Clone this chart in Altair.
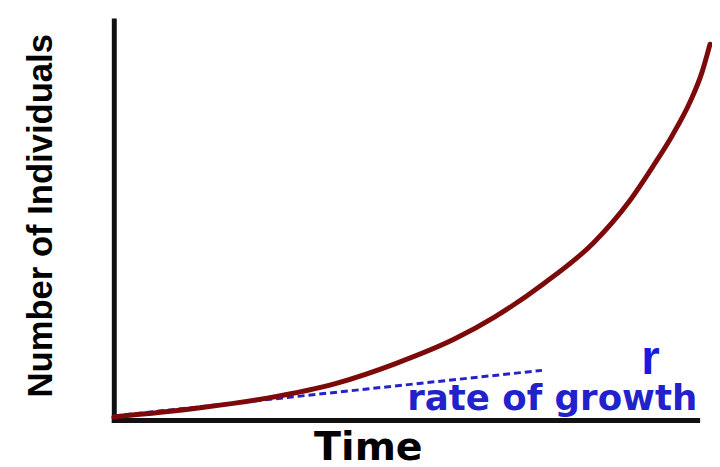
import altair as alt
import pandas as pd

# Exponential growth curve
curve_x = [0, 14.41, 26.27, 38.14, 48.31, 58.47, 65.25, 73.73, 82.20, 88.47, 92.37, 95.76, 98.81, 100.85, 102.20]
curve_y = [0.74, 2.97, 5.45, 9.16, 14.11, 20.30, 25.74, 34.16, 44.31, 54.95, 63.37, 71.29, 79.70, 87.13, 94.06]

# Rate-of-growth dashed tangent line
rate_x = [0, 73.4]
rate_y = [1.0, 12.4]

# Annotation texts
r_label = ["r"]
r_x = [92.0]
r_y = [11.4]
growth_label = ["rate of growth"]
growth_x = [50.3]
growth_y = [2.5]

curve_df = pd.DataFrame({"x": curve_x, "y": curve_y})
rate_df = pd.DataFrame({"x": rate_x, "y": rate_y})
r_df = pd.DataFrame({"x": r_x, "y": r_y, "t": r_label})
g_df = pd.DataFrame({"x": growth_x, "y": growth_y, "t": growth_label})

xs = alt.Scale(domain=[0, 100], nice=False, zero=False)
ys = alt.Scale(domain=[0, 100], nice=False, zero=False)

xaxis = alt.Axis(
    title="Time", ticks=False, labels=False, grid=False,
    domainColor="#111111", domainWidth=5, domainCap="square",
    titleFont="DejaVu Sans", titleFontSize=40, titleFontWeight="bold",
    titleColor="#000000", titleX=257, titleY=40, titleBaseline="alphabetic",
    titleAlign="center", titleAnchor="start",
)
yaxis = alt.Axis(
    title="Number of Individuals", ticks=False, labels=False, grid=False,
    domainColor="#111111", domainWidth=5, domainCap="square",
    titleFont="Liberation Sans", titleFontSize=35,
    titleFontWeight="bold", titleColor="#000000", titleAngle=270,
    titleX=-63, titleY=197, titleBaseline="alphabetic", titleAlign="center",
    titleAnchor="start",
)

X = alt.X("x:Q", scale=xs, axis=xaxis)
Y = alt.Y("y:Q", scale=ys, axis=yaxis)

curve = alt.Chart(curve_df).mark_line(
    color="#7d0a0a", strokeWidth=5, interpolate="monotone", strokeCap="round"
).encode(x=X, y=Y)

rate = alt.Chart(rate_df).mark_line(
    color="#2323c8", strokeWidth=3, strokeDash=[7, 4]
).encode(x=X, y=Y)

r_text = alt.Chart(r_df).mark_text(
    font="Liberation Sans", fontSize=48, fontWeight="bold", color="#1a1ae0",
    align="center", baseline="alphabetic"
).encode(x=X, y=Y, text="t:N")

g_text = alt.Chart(g_df).mark_text(
    font="DejaVu Sans", fontSize=36, fontWeight="bold", color="#2222cc",
    align="left", baseline="alphabetic"
).encode(x=X, y=Y, text="t:N")

chart = alt.layer(rate, curve, r_text, g_text).properties(
    width=590, height=404,
    autosize=alt.AutoSizeParams(type="none"),
    padding={"left": 107, "top": 10, "right": 15, "bottom": 45},
).configure_view(stroke=None)

chart.save("out.html", embed_options={"renderer": "svg", "actions": False})
